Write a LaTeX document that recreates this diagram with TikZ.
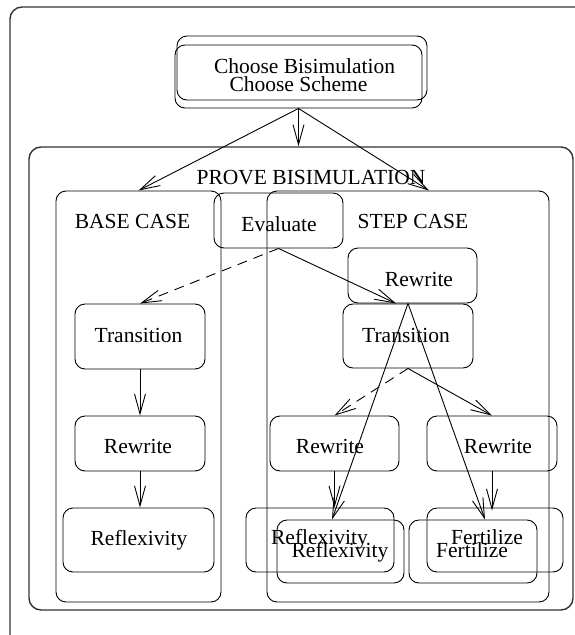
\documentclass[tikz,border=0pt]{standalone}
\usepackage{fontspec}
\setmainfont{Liberation Serif}
\usetikzlibrary{arrows.meta,fit}
\begin{document}
\begin{tikzpicture}[x=1pt,y=-1pt,
  box/.style={draw, rounded corners=10pt, inner sep=0pt, line width=0.9pt},
  frame/.style={draw, rounded corners=12pt, inner sep=0pt, line width=1.4pt, black!80},
  lbl/.style={anchor=base, inner sep=0pt, font=\fontsize{21.5}{24}\selectfont},
  arr/.style={line width=0.9pt, -{Straight Barb[length=20pt,width=11pt,line width=0.9pt]}},
  dsh/.style={arr, dash pattern=on 10pt off 7pt},
]
\useasboundingbox (0,0) rectangle (575,635);

% frames
\node[frame, fit={(10,7) (600,660)}] (page) {};
\node[frame, fit={(29,147) (573,610)}] (prove) {};

% top boxes
\node[box, fit={(177,36) (427,100)}] (chooseB) {};
\node[box, fit={(175,45) (422,108)}] (chooseA) {};

% case containers
\node[box, fit={(56,191) (221,602)}] (base) {};
\node[box, fit={(267,191) (549,602)}] (step) {};
\node[box, fit={(214,193) (343,248)}] (eval) {};

% base case
\node[box, fit={(75,304) (205,369)}] (btrans) {};
\node[box, fit={(75,416) (205,471)}] (brew) {};
\node[box, fit={(63,508) (214,572)}] (brefl) {};

% step case
\node[box, fit={(348,248) (477,303)}] (srew) {};
\node[box, fit={(343,304) (473,368)}] (strans) {};
\node[box, fit={(270,416) (399,471)}] (slrew) {};
\node[box, fit={(427,416) (557,471)}] (srrew) {};
\node[box, fit={(246,508) (394,572)}] (refA) {};
\node[box, fit={(277,520) (404,583)}] (refB) {};
\node[box, fit={(427,508) (563,572)}] (ferA) {};
\node[box, fit={(409,520) (537,583)}] (ferB) {};

% labels
\node[lbl] (tChooseA) at (304.5,73) {Choose Bisimulation};
\node[lbl] (tChooseB) at (298.5,91) {Choose Scheme};
\node[lbl] (tProve) at (311,184) {PROVE BISIMULATION};
\node[lbl] (tBase) at (132.5,228) {BASE CASE};
\node[lbl] (tStep) at (413,228) {STEP CASE};
\node[lbl] (tEval) at (279,231) {Evaluate};
\node[lbl] (tBtrans) at (138.5,342) {Transition};
\node[lbl] (tBrew) at (138,453) {Rewrite};
\node[lbl] (tBrefl) at (139,545) {Reflexivity};
\node[lbl] (tSrew) at (419,286) {Rewrite};
\node[lbl] (tStrans) at (406,342) {Transition};
\node[lbl] (tSlrew) at (330,453) {Rewrite};
\node[lbl] (tSrrew) at (498,453) {Rewrite};
\node[lbl] (tRefA) at (319.5,544) {Reflexivity};
\node[lbl] (tRefB) at (340,557) {Reflexivity};
\node[lbl] (tFerA) at (487,544) {Fertilize};
\node[lbl] (tFerB) at (472,557) {Fertilize};

% connectors
\draw[arr] (chooseA.south) -- (base.north);
\draw[arr] (chooseA.south) -- (chooseA.south |- prove.north);
\draw[arr] (chooseA.south) -- ([xshift=21pt]step.north);

\draw[dsh] (eval.south) -- (btrans.north);
\draw[arr] (eval.south) -- ([xshift=-16.5pt]srew.south);

\draw[arr] (btrans.south) -- (btrans.south |- brew.north);
\draw[arr] (brew.south) -- (brew.south |- brefl.north);

\draw[arr] ([xshift=-4.5pt]srew.south) -- ([xshift=-8.5pt]refB.north);
\draw[arr] ([xshift=-4.5pt]srew.south) -- ([xshift=12pt]ferB.north);

\draw[dsh] (strans.south) -- (slrew.north);
\draw[arr] (strans.south) -- (srrew.north);

\draw[arr] (slrew.south) -- (slrew.south |- refA.north);
\draw[arr] (srrew.south) -- ([yshift=-3pt]srrew.south |- ferA.north);
\end{tikzpicture}
\end{document}
